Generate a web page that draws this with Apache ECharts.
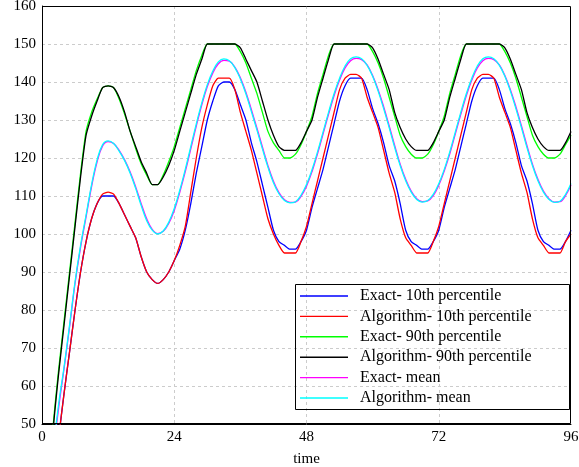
<!DOCTYPE html>
<html><head><meta charset="utf-8">
<script src="https://cdn.jsdelivr.net/npm/echarts@6/dist/echarts.min.js"></script>
<style>html,body{margin:0;padding:0;background:#fff}#c{width:579px;height:467px}</style>
</head><body><div id="c"></div>
<script>
const hours = [0,1,2,3,4,5,6,7,8,9,10,11,12,13,14,15,16,17,18,19,20,21,22,23,24,25,26,27,28,29,30,31,32,33,34,35,36,37,38,39,40,41,42,43,44,45,46,47,48,49,50,51,52,53,54,55,56,57,58,59,60,61,62,63,64,65,66,67,68,69,70,71,72,73,74,75,76,77,78,79,80,81,82,83,84,85,86,87,88,89,90,91,92,93,94,95,96];

const exact10 = [0,15,31,46,58,69,80,90,98,104,
  108,110,110,110,108,105,102,99,94,90,
  88,87,88,90,93,96,101,108,116,123,
  130,135,139,140,140,138,134,130,124,119,
  113,107,101,98,97,96,96,98,101,107,
  112,117,123,129,135,139,141,141,141,138,
  133,129,124,118,114,108,101,98,97,96,
  96,98,101,107,112,117,123,129,135,139,
  141,141,141,138,133,129,124,118,114,108,
  101,98,97,96,96,98,101];

const algo10 = [0,15,31,46,58,69,80,90,98,104,
  108,110.5,111,110.5,108,105,102,99,94,90,
  88,87,88,90,93,97,102,111,120,128,
  134,139,141,141,141,138,132,127,122,116,
  110,104,100,97,95,95,95,98,102,108,
  114,120,126,132,138,141,142,142,141,136,
  132,128,122,116,111,104,99,97,95,95,
  95,98,102,108,114,120,126,132,138,141,
  142,142,141,136,132,128,122,116,111,104,
  99,97,95,95,95,98,100];

const exact90 = [0,25,49,64,77,90,103,116,127,132,
  135.5,138.5,139,138.5,135.5,131.5,127,122.5,118.5,115.5,
  113,113,115.5,119,123,128,133,138,143,147,
  150,150,150,150,150,150,148,145,141,137,
  132,127,124,122,120,120,121,123.5,127,131,
  137,142,147,150,150,150,150,150,150,150,
  148,145,141,136,131,126,123,121,120,120,
  121,123.5,127,131,137,142,147,150,150,150,
  150,150,150,150,148,145,141,136,131,126,
  123,121,120,120,121,123.5,126];

const algo90 = [0,24,48,63,76,89,102,115,126,131,
  135,138.5,139,138.5,136,132,127,123,119,116,
  113,113,115,118,122,127,132,137,142,146,
  150,150,150,150,150,150,149,146,143,140,
  135,130,126,123,122,122,122,124,127,130,
  136,141,146,150,150,150,150,150,150,150,
  149,146,142,138,132,128,125,123,122,122,
  122,124,127,130,136,141,146,150,150,150,
  150,150,150,150,149,146,142,138,132,128,
  125,123,122,122,122,124,127];

const exactMean = [0,19,41,54,64.5,75.5,87,96.5,104.5,112.5,
  119,123.2,124.3,123.8,122,119.5,116.3,112.4,108,104,
  101.2,100.1,100.7,102.8,106.2,111,116.4,122.4,128.4,134,
  138.8,142.4,144.8,145.7,145.5,143.9,141.1,137.3,132.7,127.9,
  122.9,118,113.9,110.9,109,108.3,108.4,109.9,112.6,116.4,
  121.1,126.3,131.5,136.4,140.5,143.7,145.6,146.2,145.9,144.5,
  141.7,138,133.5,128.5,123.3,118.4,114.4,111.3,109.3,108.5,
  108.7,110.1,112.8,116.6,121.1,126.3,131.5,136.4,140.5,143.7,
  145.6,146.2,145.9,144.5,141.7,138,133.5,128.5,123.3,118.4,
  114.4,111.3,109.3,108.4,108.5,110.1,112.9];

const algoMean = [0,20,42,55,65,76,87.5,97,105,113,
  119.5,123.5,124.5,123.8,121.8,119.3,116,112,107.5,103.5,
  101,100,100.8,103.1,106.7,111.5,117,123,129,134.5,
  139.3,142.9,145.3,146.1,145.6,143.8,140.8,136.9,132.2,127.4,
  122.4,117.6,113.5,110.6,108.8,108.2,108.5,110.2,113,116.9,
  121.6,126.8,132,136.9,141,144.2,146.1,146.6,146.1,144.4,
  141.5,137.6,133,128,122.8,118,114,111,109.1,108.4,
  108.8,110.4,113.2,117,121.6,126.8,132,136.9,141,144.2,
  146.1,146.6,146.1,144.4,141.5,137.6,133,128,122.8,118,
  114,111,109.1,108.3,108.6,110.4,113.3];

const xTicks = [0, 24, 48, 72, 96];
const yMin = 50, yMax = 160, yStep = 10;

const FONT = '"Liberation Serif", "Times New Roman", serif';
const defs = [
  {name: 'Exact- 10th percentile', data: exact10, color: '#0000ff', smooth: 0.2},
  {name: 'Algorithm- 10th percentile', data: algo10, color: '#ff0000', smooth: 0.2},
  {name: 'Exact- 90th percentile', data: exact90, color: '#00ff00', smooth: 0.2},
  {name: 'Algorithm- 90th percentile', data: algo90, color: '#000000', smooth: 0.2},
  {name: 'Exact- mean', data: exactMean, color: '#ff00ff', smooth: 0.4},
  {name: 'Algorithm- mean', data: algoMean, color: '#00ffff', smooth: 0.4}
];

const LINE_ICON = 'path://M0,0h0.01v0.01h-0.01z M0,6.3h48v1.4h-48z M47.99,14h0.01v-0.01h-0.01z';

const chart = echarts.init(document.getElementById('c'), null, {renderer: 'canvas'});
chart.setOption({
  animation: false,
  backgroundColor: '#fff',
  grid: {left: 42, right: 8, top: 6, bottom: 43, show: false, containLabel: false, outerBoundsMode: 'none'},
  xAxis: {
    type: 'value', min: xTicks[0], max: xTicks[xTicks.length - 1], interval: 24,
    name: 'time', nameLocation: 'middle', nameGap: 28,
    nameTextStyle: {fontFamily: FONT, fontSize: 15, color: '#000'},
    axisLine: {show: true, lineStyle: {color: '#000', width: 1}},
    axisTick: {show: false},
    axisLabel: {fontFamily: FONT, fontSize: 15, color: '#000', margin: 6},
    splitLine: {show: true, showMinLine: false, showMaxLine: false, lineStyle: {color: '#cccccc', type: [3, 3], width: 1}}
  },
  yAxis: {
    type: 'value', min: yMin, max: yMax, interval: yStep,
    axisLine: {show: true, lineStyle: {color: '#000', width: 1}},
    axisTick: {show: false},
    axisLabel: {fontFamily: FONT, fontSize: 15, color: '#000', margin: 6},
    splitLine: {show: true, showMinLine: false, showMaxLine: false, lineStyle: {color: '#cccccc', type: [3, 3], width: 1}}
  },
  legend: {
    orient: 'vertical', left: 300, top: 288, padding: 0,
    itemWidth: 48, itemHeight: 14, itemGap: 4.4,
    icon: LINE_ICON,
    textStyle: {fontFamily: FONT, fontSize: 16, color: '#000', padding: [0, 0, 0, 7]},
    data: defs.map(d => d.name)
  },
  graphic: [{
    type: 'rect', silent: true, z: 100,
    shape: {x: 295.5, y: 284.5, width: 274, height: 125},
    style: {fill: 'none', stroke: '#000', lineWidth: 1}
  }, {
    type: 'rect', silent: true, z: 100,
    shape: {x: 42.5, y: 6.5, width: 528, height: 417},
    style: {fill: 'none', stroke: '#000', lineWidth: 1}
  }],
  series: defs.map(d => ({
    name: d.name, type: 'line', symbol: 'none', smooth: d.smooth,
    data: hours.map((h, i) => [h, d.data[i]]),
    lineStyle: {color: d.color, width: 1.3},
    itemStyle: {color: d.color},
    clip: true
  }))
});
</script>
</body></html>
